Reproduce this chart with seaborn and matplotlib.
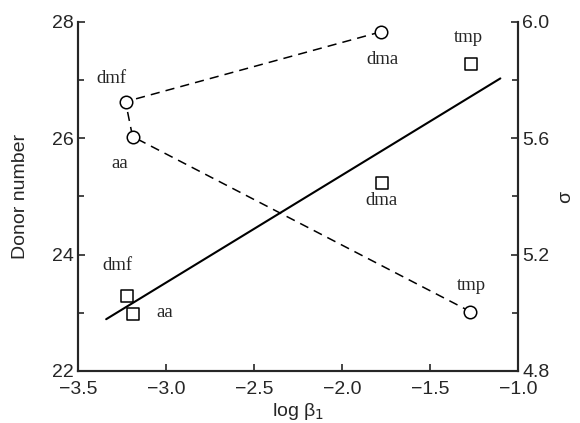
import numpy as np
import pandas as pd
import matplotlib
matplotlib.use("Agg")
import matplotlib.pyplot as plt
import seaborn as sns
from matplotlib.ticker import MultipleLocator

# Data
solvents_circ = ["dma", "dmf", "aa", "tmp"]
logb_circ = [-1.78, -3.23, -3.19, -1.27]
donor_number = [27.83, 26.63, 26.03, 23.02]

solvents_sq = ["dmf", "aa", "dma", "tmp"]
logb_sq = [-3.22, -3.19, -1.775, -1.265]
sigma = [5.058, 4.996, 5.448, 5.855]

fit_x = [-3.34, -1.10]
fit_sigma = [4.978, 5.806]

sns.set_style("ticks")
plt.rcParams["font.family"] = ["Liberation Sans", "DejaVu Sans"]

fig = plt.figure(figsize=(5.8, 4.23), dpi=100)
ax = fig.add_axes([0.1345, 0.123, 0.893 - 0.1345, 0.948 - 0.123])
ax2 = ax.twinx()

df_c = pd.DataFrame({"x": logb_circ, "y": donor_number})
sns.lineplot(data=df_c, x="x", y="y", sort=False, ax=ax, color="black",
             linestyle=(0, (6, 4)), linewidth=1.1, marker="o", markersize=9,
             markerfacecolor="white", markeredgecolor="black", markeredgewidth=1.1)

df_s = pd.DataFrame({"x": logb_sq, "y": sigma})
sns.scatterplot(data=df_s, x="x", y="y", ax=ax2, marker="s", s=70,
                facecolor="white", edgecolor="black", linewidth=1.1, zorder=3)
df_f = pd.DataFrame({"x": fit_x, "y": fit_sigma})
sns.lineplot(data=df_f, x="x", y="y", ax=ax2, color="black", linewidth=1.5, zorder=2)

ax.set_xlim(-3.5, -1.0)
ax.set_ylim(22, 28)
ax2.set_ylim(4.8, 6.0)
ax.set_xticks([-3.5, -3.0, -2.5, -2.0, -1.5, -1.0])
ax.set_xticklabels(["\u22123.5", "\u22123.0", "\u22122.5", "\u22122.0", "\u22121.5", "\u22121.0"])
ax.set_yticks([22, 24, 26, 28])
ax.yaxis.set_minor_locator(MultipleLocator(1))
ax2.set_yticks([4.8, 5.2, 5.6, 6.0])
ax2.set_yticklabels(["4.8", "5.2", "5.6", "6.0"])
ax2.yaxis.set_minor_locator(MultipleLocator(0.2))

for a in (ax, ax2):
    a.tick_params(direction="in", which="major", length=5, width=1.2, labelsize=14)
    a.tick_params(direction="in", which="minor", length=4, width=1.2)
    a.spines["top"].set_visible(False)
    for s in ("left", "right", "bottom"):
        a.spines[s].set_linewidth(1.5)
ax.tick_params(axis="x", pad=7)
ax.tick_params(axis="y", pad=3)
ax2.tick_params(axis="y", pad=3)

ax.set_xlabel("log \u03b2$_1$", fontsize=14)
ax.xaxis.set_label_coords(0.5, -0.085)
ax.set_ylabel("Donor number", fontsize=14)
ax.yaxis.set_label_coords(-0.111, 0.5)
ax2.set_ylabel("\u03c3", fontsize=14, rotation=90)
ax2.yaxis.set_label_coords(1.09, 0.5)

serif = ["Liberation Serif", "DejaVu Serif"]
circ_off = {"dma": (1, -20), "dmf": (-10, 17), "aa": (-9, -19.5), "tmp": (1, 19)}
for n, x, y in zip(solvents_circ, logb_circ, donor_number):
    dx, dy = circ_off[n]
    ax.annotate(n, (x, y), xytext=(dx, dy), textcoords="offset points",
                ha="center", va="center", fontsize=13.5, family=serif)
sq_off = {"dmf": (-7, 22), "aa": (23, 1), "dma": (0, -13), "tmp": (-2, 19)}
for n, x, y in zip(solvents_sq, logb_sq, sigma):
    dx, dy = sq_off[n]
    ax2.annotate(n, (x, y), xytext=(dx, dy), textcoords="offset points",
                 ha="center", va="center", fontsize=13.5, family=serif)

fig.savefig("out.png", dpi=100)
